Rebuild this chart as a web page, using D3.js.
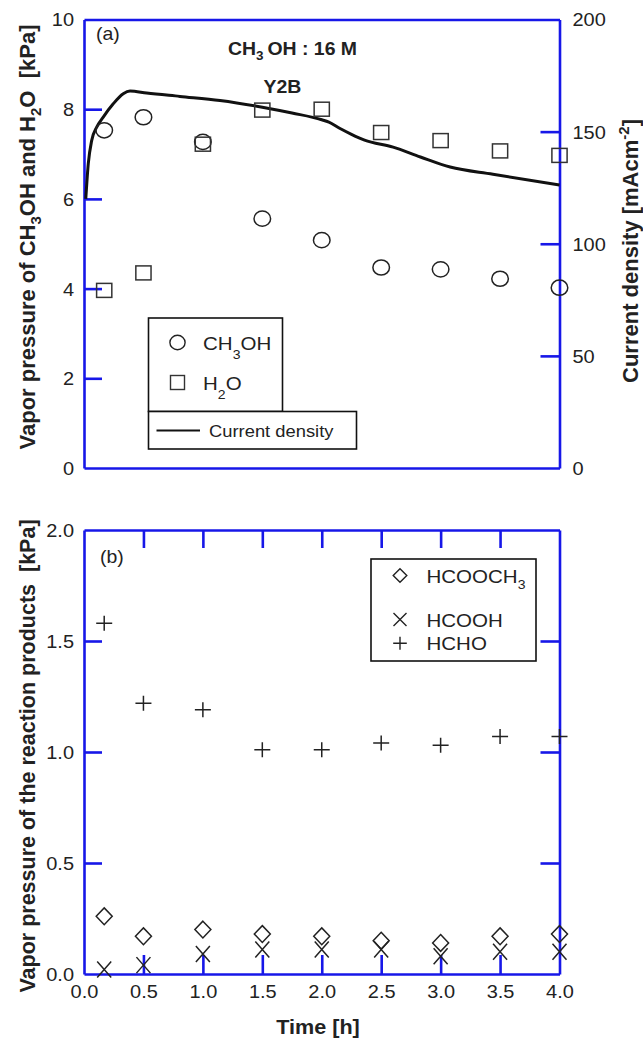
<!DOCTYPE html>
<html><head><meta charset="utf-8">
<script src="https://cdn.jsdelivr.net/npm/d3@7"></script>
<style>
body{margin:0;background:#fff}
svg{display:block}
text{font-family:"Liberation Sans",Arial,sans-serif;fill:#222;white-space:pre}
</style>
</head><body>
<svg id="c" width="643" height="1038"></svg>
<script>
// ---------------- data ----------------
const times = [0.17, 0.5, 1.0, 1.5, 2.0, 2.5, 3.0, 3.5, 4.0];
const ch3oh = [7.53, 7.82, 7.27, 5.56, 5.08, 4.47, 4.43, 4.22, 4.02];
const h2o   = [3.96, 4.35, 7.22, 7.98, 8.0, 7.48, 7.3, 7.07, 6.97];
const cdTime  = [0.015, 0.036, 0.065, 0.107, 0.162, 0.246, 0.33, 0.387, 0.527, 0.807, 1.144, 1.5, 1.75, 2.0, 2.06, 2.15, 2.25, 2.36, 2.6, 2.83, 3.08, 3.44, 4.0];
const cdValue = [120, 135.7, 146.1, 152.0, 156.5, 162.4, 166.9, 168.1, 167.2, 165.7, 163.9, 160.9, 158.3, 155.3, 154.2, 151.5, 148.8, 146.2, 143.1, 138.7, 134.2, 131.0, 126.2];
const hcooch3 = [0.26, 0.17, 0.20, 0.18, 0.17, 0.15, 0.14, 0.17, 0.18];
const hcooh   = [0.02, 0.04, 0.09, 0.11, 0.11, 0.11, 0.08, 0.10, 0.10];
const hcho    = [1.58, 1.22, 1.19, 1.01, 1.01, 1.04, 1.03, 1.07, 1.07];
const xTicks = [0, 0.5, 1, 1.5, 2, 2.5, 3, 3.5, 4];
const yTopLeftTicks = [0, 2, 4, 6, 8, 10];
const yTopRightTicks = [0, 50, 100, 150, 200];
const yBotTicks = [0, 0.5, 1.0, 1.5, 2.0];

// ---------------- setup ----------------
const SX = 1.08;            // horizontal stretch of the text
const BLUE = "#1717e8";
const svg = d3.select("#c");

const x = d3.scaleLinear([0, 4], [84, 559.5]);
const yL = d3.scaleLinear([0, 10], [468, 19.5]);
const yR = d3.scaleLinear([0, 200], [468, 19.5]);
const yB = d3.scaleLinear([0, 2], [974, 530]);

function styleAxis(g) {
  g.select(".domain").attr("stroke", BLUE).attr("stroke-width", 2.6);
  g.selectAll(".tick line").attr("stroke", BLUE).attr("stroke-width", 2.6);
  g.selectAll(".tick text").style("font-size", "18.5px").attr("fill", "#222");
}
function hideEnds(g, ends) {
  g.selectAll(".tick").filter(d => ends.includes(d)).select("line").remove();
}
function leftLabels(g, off) {
  g.selectAll(".tick text").attr("x", null).attr("dy", "0.35em")
    .attr("transform", `translate(${off},0) scale(${SX},1)`);
}

// ---------------- panel (a) ----------------
const aL = svg.append("g").attr("transform", `translate(${x(0)},0)`)
  .call(d3.axisLeft(yL).tickValues(yTopLeftTicks).tickSize(-18).tickSizeOuter(0).tickPadding(10).tickFormat(d3.format("d")));
styleAxis(aL); hideEnds(aL, [0, 10]); leftLabels(aL, -10);

const aR = svg.append("g").attr("transform", `translate(${x(4)},0)`)
  .call(d3.axisRight(yR).tickValues(yTopRightTicks).tickSize(-19).tickSizeOuter(0).tickPadding(13).tickFormat(d3.format("d")));
styleAxis(aR); hideEnds(aR, [0, 200]); leftLabels(aR, 13);

const aT = svg.append("g").attr("transform", `translate(0,${yL(10)})`)
  .call(d3.axisTop(x).tickValues([]).tickSizeOuter(0));
styleAxis(aT);
const aB = svg.append("g").attr("transform", `translate(0,${yL(0)})`)
  .call(d3.axisBottom(x).tickValues([]).tickSizeOuter(0));
styleAxis(aB);

// current density line
const cd = cdTime.map((t, i) => [t, cdValue[i]]);
svg.append("path").datum(cd)
  .attr("fill", "none").attr("stroke", "#111").attr("stroke-width", 3)
  .attr("stroke-linejoin", "round")
  .attr("d", d3.line().x(d => x(d[0])).y(d => yR(d[1])).curve(d3.curveMonotoneX));

// markers
const MK = "#222";
svg.append("g").selectAll("ellipse").data(times).join("ellipse")
  .attr("cx", d => x(d)).attr("cy", (d, i) => yL(ch3oh[i]))
  .attr("rx", 8.3).attr("ry", 7.6)
  .attr("fill", "none").attr("stroke", MK).attr("stroke-width", 1.5);
svg.append("g").selectAll("rect").data(times).join("rect")
  .attr("x", d => x(d) - 7.6).attr("y", (d, i) => yL(h2o[i]) - 7)
  .attr("width", 15.2).attr("height", 14)
  .attr("fill", "none").attr("stroke", "#333").attr("stroke-width", 1.5);

// texts
function stext(px, py, size, weight, anchor) {
  return svg.append("text")
    .attr("transform", `translate(${px},${py}) scale(${SX},1)`)
    .style("font-size", size + "px").style("font-weight", weight || "normal")
    .attr("text-anchor", anchor || "start");
}
function addSub(t, parts, subSize, dy, sup) {
  let reset = 0;
  parts.forEach(p => {
    if (typeof p === "string") {
      const ts = t.append("tspan").text(p);
      if (reset) { ts.attr("dy", reset); reset = 0; }
    } else {
      const shift = p.sup ? -dy : dy;
      t.append("tspan").attr("dy", shift).style("font-size", subSize + "px").text(p.sub || p.sup);
      reset = -shift;
    }
  });
  return t;
}
stext(96, 40, 18).text("(a)");
addSub(stext(228, 55, 18, "bold"), ["CH", {sub: "3"}, "\u2009OH : 16 M"], 12.5, 5);
stext(282.5, 93, 18, "bold", "middle").text("Y2B");

// legend (a)
svg.append("rect").attr("x", 148.5).attr("y", 318).attr("width", 134).attr("height", 93.5)
  .attr("fill", "#fff").attr("stroke", "#111").attr("stroke-width", 1.6);
svg.append("rect").attr("x", 148.5).attr("y", 411.5).attr("width", 208).attr("height", 37.5)
  .attr("fill", "#fff").attr("stroke", "#111").attr("stroke-width", 1.6);
svg.append("ellipse").attr("cx", 177.5).attr("cy", 342.5).attr("rx", 7.6).attr("ry", 7.2)
  .attr("fill", "none").attr("stroke", MK).attr("stroke-width", 1.4);
svg.append("rect").attr("x", 170.5).attr("y", 375.5).attr("width", 14).attr("height", 14)
  .attr("fill", "none").attr("stroke", "#333").attr("stroke-width", 1.4);
svg.append("line").attr("x1", 156.5).attr("x2", 200).attr("y1", 430.5).attr("y2", 430.5)
  .attr("stroke", "#111").attr("stroke-width", 2);
addSub(stext(203, 349.5, 19), ["CH", {sub: "3"}, "OH"], 13, 9);
addSub(stext(203, 389.5, 19), ["H", {sub: "2"}, "O"], 13, 9);
stext(209, 436.5, 17).text("Current density");

// axis titles (a)
const tl = svg.append("text").attr("transform", "translate(35,237) rotate(-90)")
  .attr("text-anchor", "middle").style("font-size", "22px").style("font-weight", "bold");
addSub(tl, ["Vapor pressure of CH", {sub: "3"}, "OH and H", {sub: "2"}, "O  [kPa]"], 15, 6);
const tr = svg.append("text").attr("transform", "translate(638,251) rotate(-90)")
  .attr("text-anchor", "middle").style("font-size", "22px").style("font-weight", "bold");
addSub(tr, ["Current density [mAcm", {sup: "-2"}, "]"], 15, 9);

// ---------------- panel (b) ----------------
const bL = svg.append("g").attr("transform", `translate(${x(0)},0)`)
  .call(d3.axisLeft(yB).tickValues(yBotTicks).tickSize(-18).tickSizeOuter(0).tickFormat(d3.format(".1f")));
styleAxis(bL); hideEnds(bL, [0, 2]); leftLabels(bL, -10);

const bR = svg.append("g").attr("transform", `translate(${x(4)},0)`)
  .call(d3.axisRight(yB).tickValues([0.5, 1.0, 1.5]).tickSize(-19).tickSizeOuter(0).tickFormat(""));
styleAxis(bR);

const bT = svg.append("g").attr("transform", `translate(0,${yB(2)})`)
  .call(d3.axisTop(x).tickValues(xTicks.slice(1, -1)).tickSize(-18).tickSizeOuter(0).tickFormat(""));
styleAxis(bT);

const bB = svg.append("g").attr("transform", `translate(0,${yB(0)})`)
  .call(d3.axisBottom(x).tickValues(xTicks).tickSize(-19).tickSizeOuter(0).tickFormat(d3.format(".1f")));
styleAxis(bB); hideEnds(bB, [0, 4]);
bB.selectAll(".tick text").attr("y", null).attr("dy", null)
  .attr("transform", `translate(0,24) scale(${SX},1)`);

// markers (b)
const dia = (cx, cy, w, h) => `M${cx},${cy - h}L${cx + w},${cy}L${cx},${cy + h}L${cx - w},${cy}Z`;
const cross = (cx, cy, w, h) => `M${cx - w},${cy - h}L${cx + w},${cy + h}M${cx - w},${cy + h}L${cx + w},${cy - h}`;
const plus = (cx, cy, w, h) => `M${cx - w},${cy}L${cx + w},${cy}M${cx},${cy - h}L${cx},${cy + h}`;

svg.append("g").selectAll("path").data(times).join("path")
  .attr("d", (d, i) => dia(x(d), yB(hcooch3[i]), 8, 8.4))
  .attr("fill", "none").attr("stroke", MK).attr("stroke-width", 1.5);
svg.append("g").selectAll("path").data(times).join("path")
  .attr("d", (d, i) => cross(x(d), yB(hcooh[i]), 7, 8))
  .attr("fill", "none").attr("stroke", MK).attr("stroke-width", 1.5);
svg.append("g").selectAll("path").data(times).join("path")
  .attr("d", (d, i) => plus(x(d), yB(hcho[i]), 8, 7.5))
  .attr("fill", "none").attr("stroke", MK).attr("stroke-width", 1.5);

stext(100, 563, 18).text("(b)");

// legend (b)
svg.append("rect").attr("x", 371).attr("y", 559).attr("width", 165).attr("height", 102)
  .attr("fill", "#fff").attr("stroke", "#111").attr("stroke-width", 1.6);
svg.append("path").attr("d", dia(400, 575.5, 6.8, 6.8))
  .attr("fill", "none").attr("stroke", MK).attr("stroke-width", 1.4);
svg.append("path").attr("d", cross(400, 619.5, 6.5, 6.5))
  .attr("fill", "none").attr("stroke", MK).attr("stroke-width", 1.4);
svg.append("path").attr("d", plus(400, 643.3, 6.8, 6.5))
  .attr("fill", "none").attr("stroke", MK).attr("stroke-width", 1.4);
addSub(stext(426.5, 582.5, 19), ["HCOOCH", {sub: "3"}], 13, 6);
stext(426.5, 626.5, 19).text("HCOOH");
stext(426.5, 650, 19).text("HCHO");

// axis titles (b)
svg.append("text").attr("transform", "translate(35,756) rotate(-90)")
  .attr("text-anchor", "middle").style("font-size", "21.5px").style("font-weight", "bold")
  .text("Vapor pressure of the reaction products  [kPa]");
stext(318, 1034, 20, "bold", "middle").text("Time [h]");
</script>
</body></html>
